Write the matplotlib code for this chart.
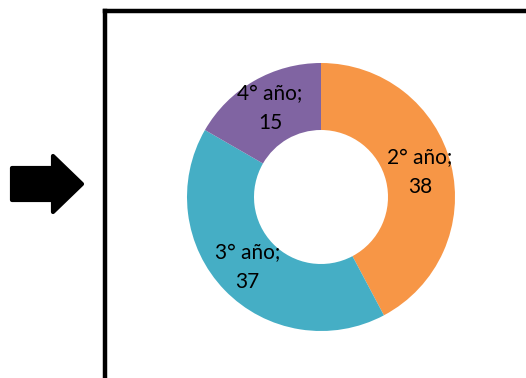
import matplotlib
matplotlib.use("Agg")
import matplotlib.pyplot as plt
from matplotlib.patches import Polygon
import numpy as np

# Distribución de estudiantes por año
categories = ["2° año", "3° año", "4° año"]
values = [38, 37, 15]
colors = ["#F79646", "#45AEC5", "#8064A2"]

W, H = 526, 378
fig = plt.figure(figsize=(W / 100, H / 100), dpi=100)
ax = fig.add_axes([0, 0, 1, 1])

cx, cy, R = 321, 181, 134
wedges, _ = ax.pie(
    values, colors=colors, startangle=90, counterclock=False,
    center=(cx, cy), radius=R,
    wedgeprops=dict(width=R * 0.5, edgecolor="none"),
)

for w, name, v in zip(wedges, categories, values):
    mid = np.deg2rad((w.theta1 + w.theta2) / 2)
    r = R * 0.76
    ax.text(cx + r * np.cos(mid), cy + r * np.sin(mid), f"{name};\n{v}",
            ha="center", va="center", fontsize=15, family="Lato",
            linespacing=1.55, color="black")

# recuadro y flecha
ax.plot([105, 105], [0, 367], color="black", lw=3.2, solid_capstyle="projecting")
ax.plot([105, W], [367, 367], color="black", lw=3.2, solid_capstyle="projecting")

arrow = [(12, 210), (53, 210), (53, 222), (82, 194), (53, 166), (53, 178), (12, 178)]
ax.add_patch(Polygon(arrow, closed=True, facecolor="black", edgecolor="black",
                     lw=3, joinstyle="round"))

ax.set_xlim(0, W)
ax.set_ylim(0, H)
ax.set_aspect("equal")
ax.axis("off")

fig.savefig("out.png", dpi=100)
